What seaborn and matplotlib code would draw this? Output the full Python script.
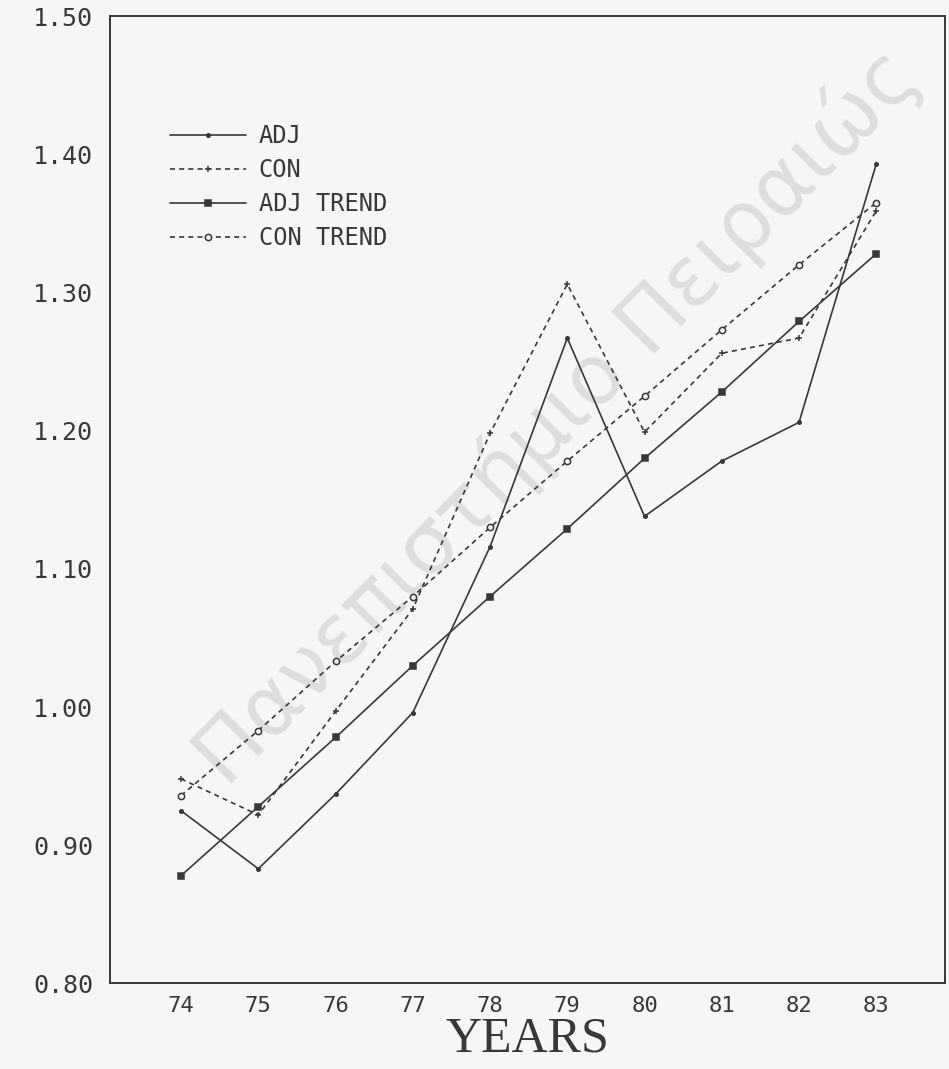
import numpy as np
import pandas as pd
import matplotlib
matplotlib.use("Agg")
import matplotlib.pyplot as plt
import seaborn as sns

years = [74, 75, 76, 77, 78, 79, 80, 81, 82, 83]
adj = [0.925, 0.883, 0.937, 0.996, 1.116, 1.267, 1.138, 1.178, 1.206, 1.393]
con = [0.948, 0.922, 0.997, 1.071, 1.198, 1.306, 1.199, 1.256, 1.267, 1.359]
adj_trend = [0.878, 0.928, 0.978, 1.030, 1.080, 1.129, 1.180, 1.228, 1.279, 1.328]
con_trend = [0.936, 0.983, 1.033, 1.080, 1.130, 1.178, 1.225, 1.273, 1.320, 1.365]
y_ticks = [0.80, 0.90, 1.00, 1.10, 1.20, 1.30, 1.40, 1.50]
watermark = "Πανεπιστήμιο Πειραιώς"

ink = "#383838"
paper = "#f6f6f4"

sns.set_style("white")
plt.rcParams["font.family"] = ["DejaVu Sans Mono", "DejaVu Sans"]

fig = plt.figure(figsize=(9.49, 10.69), dpi=100, facecolor=paper)
ax = fig.add_axes([0.1159, 0.0800, 0.8799, 0.9050])
ax.set_facecolor(paper)

dash = (0, (3, 2.5))
series = [
    ("ADJ", adj, "-", "o", 2.5, ink),
    ("CON", con, dash, "+", 5, ink),
    ("ADJ TREND", adj_trend, "-", "s", 4, ink),
    ("CON TREND", con_trend, dash, "o", 4.5, paper),
]
for name, vals, ls, mk, ms, face in series:
    df = pd.DataFrame({"year": years, "value": vals})
    sns.lineplot(data=df, x="year", y="value", ax=ax, color=ink, linewidth=1.2,
                 linestyle=ls, marker=mk, markersize=ms, markerfacecolor=face,
                 markeredgecolor=ink, markeredgewidth=1.1, label=name, zorder=3)

# scan watermark
ax.text(0.535, 0.585, watermark, transform=ax.transAxes, rotation=45.5,
        fontsize=60, color="#dedede", ha="center", va="center", zorder=1,
        family=["DejaVu Sans"])

ax.set_xlim(73.08, 83.89)
ax.set_ylim(0.80, 1.50)
ax.set_xticks(years)
ax.set_xticklabels([str(y) for y in years], fontsize=16, color=ink)
ax.set_yticks(y_ticks)
ax.set_yticklabels([f"{t:.2f}" for t in y_ticks], fontsize=18, color=ink)
ax.tick_params(axis="x", direction="in", length=18, width=1.2, color=ink, pad=9)
ax.tick_params(axis="y", direction="in", length=10, width=1.2, color=ink, pad=12)
ax.set_xlabel("YEARS", family=["Liberation Serif"], fontsize=36, color=ink, labelpad=0)
ax.set_ylabel("")

for sp in ax.spines.values():
    sp.set_visible(True)
    sp.set_color(ink)
    sp.set_linewidth(1.4)

leg = ax.legend(loc="upper left", bbox_to_anchor=(0.072, 0.888), frameon=False,
                fontsize=17, handlelength=3.2, handletextpad=0.55, labelspacing=0.42,
                borderpad=0, borderaxespad=0)
for t in leg.get_texts():
    t.set_color(ink)

fig.savefig("out.png", dpi=100, facecolor=paper)
